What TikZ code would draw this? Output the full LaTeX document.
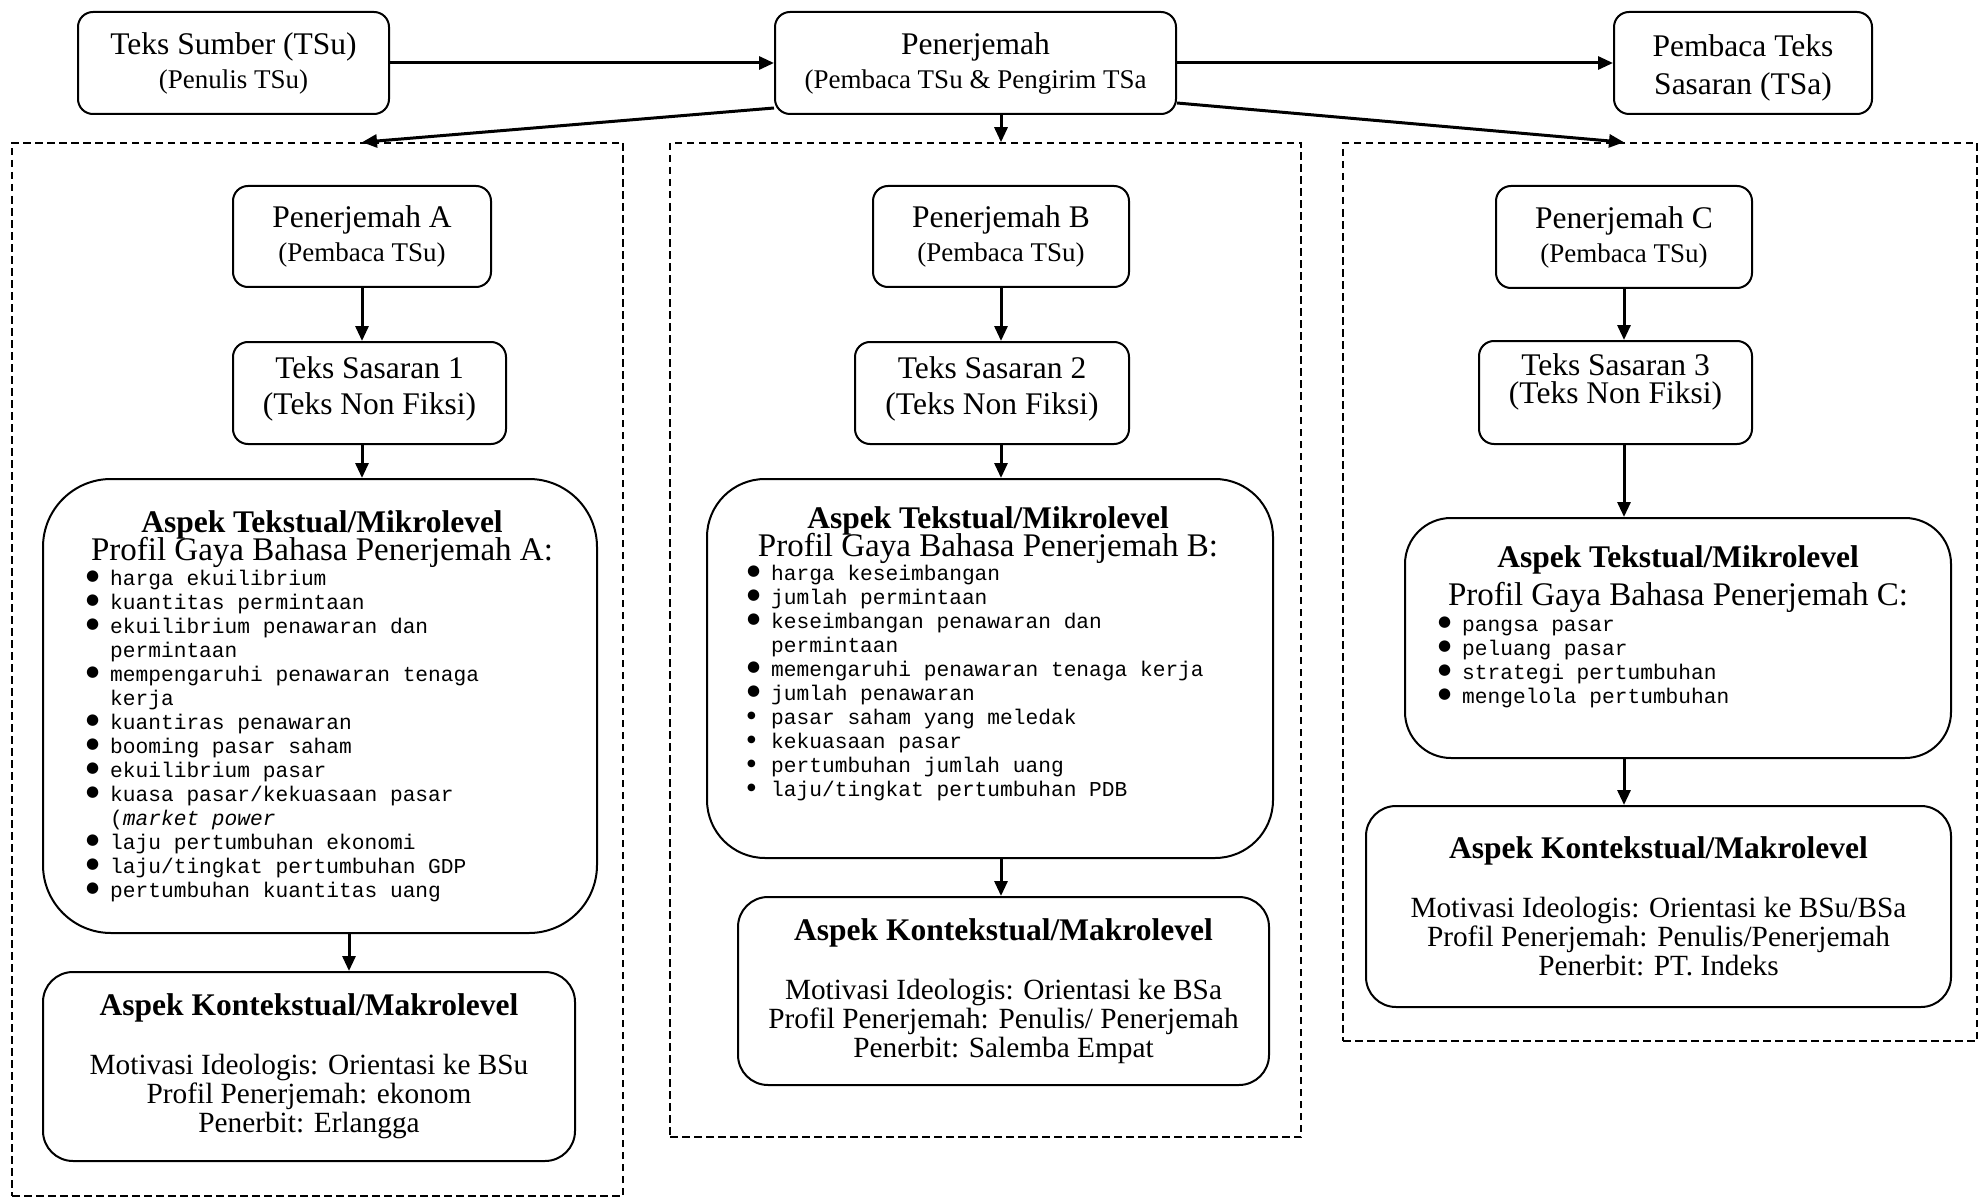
\documentclass[tikz,border=0pt]{standalone}
\usepackage{fontspec}
\setmainfont{Liberation Serif}
\setmonofont{Liberation Mono}
\newfontfamily\simbol{DejaVu Sans}
\usetikzlibrary{arrows.meta}

\newcommand{\fmain}{\fontsize{31.5}{34}\selectfont}
\newcommand{\fsub}{\fontsize{27}{30}\selectfont}
\newcommand{\fprofil}{\fontsize{33}{28}\selectfont}
\newcommand{\fbody}{\fontsize{29.3}{29}\selectfont}
\newcommand{\flist}{\ttfamily\fontsize{21.2}{24}\selectfont}
\newcommand{\bul}{\makebox[24pt][l]{\raisebox{5pt}{\simbol\fontsize{15}{15}\selectfont ●}}}
\newcommand{\bulk}{\makebox[24pt][l]{\raisebox{6pt}{\simbol\fontsize{10}{10}\selectfont ●}}}
\newcommand{\ind}{\hspace*{24pt}}

\begin{document}
\begin{tikzpicture}[x=1pt,y=-1pt]

      \tikzset{kotak/.style={draw, line width=2pt, rounded corners=15pt, align=center, inner sep=0pt, font=\fmain},
               bingkai/.style={draw, line width=1.5pt, dash pattern=on 7.5pt off 4.5pt, inner sep=0pt},
               tulisan/.style={inner sep=0pt, align=center, font=\fmain},
               daftar/.style={inner sep=0pt, align=left, anchor=north west, font=\flist},
               panah/.style={line width=3pt, -{Triangle[length=15pt, width=13pt]}}}
      \fill[white] (0,0) rectangle (1981,1198);
      \useasboundingbox (0,0) rectangle (1981,1198);
%% Kotak atas
      	\node[kotak, minimum width=311pt, minimum height=102pt] (tsu) at (233.5,63) {Teks Sumber (TSu)\\{\fsub (Penulis TSu)}};
      	\node[kotak, minimum width=401pt, minimum height=102pt] (pen) at (975.5,63) {Penerjemah\\{\fsub (Pembaca TSu \& Pengirim TSa}};
      	\node[kotak, minimum width=258pt, minimum height=102pt] (pem) at (1743,63) {\rule{0pt}{32pt}Pembaca Teks\\[4pt]Sasaran (TSa)};
%% Bingkai
      	\node[bingkai, minimum width=611pt, minimum height=1053pt] (bingkaiA) at (317.5,669.5) {};
      	\node[bingkai, minimum width=631pt, minimum height=994pt] (bingkaiB) at (985.5,640) {};
      	\node[bingkai, minimum width=634pt, minimum height=898pt] (bingkaiC) at (1660,592) {};
%% Kolom A
      	\node[kotak, minimum width=258pt, minimum height=101pt] (penA) at (362,236.5) {Penerjemah A\\{\fsub (Pembaca TSu)}};
      	\node[kotak, minimum width=273pt, minimum height=102pt] (tsA) at (369.5,393) {Teks Sasaran 1\\[2pt](Teks Non Fiksi)\rule[-15pt]{0pt}{0pt}};
      	\node[kotak, rounded corners=68pt, minimum width=554pt, minimum height=454pt] (mikroA) at (320,706) {};
      	\node[tulisan] (judulA) at (322,539) {\textbf{Aspek Tekstual/Mikrolevel}\\[-6pt]{\fprofil Profil Gaya Bahasa Penerjemah A:}};
      	\node[daftar] (daftarA) at (86,570) {\bul harga ekuilibrium\\
      	  \bul kuantitas permintaan\\
      	  \bul ekuilibrium penawaran dan\\
      	  \ind permintaan\\
      	  \bul mempengaruhi penawaran tenaga\\
      	  \ind kerja\\
      	  \bul kuantiras penawaran\\
      	  \bul booming pasar saham\\
      	  \bul ekuilibrium pasar\\
      	  \bul kuasa pasar/kekuasaan pasar\\
      	  \ind (\textit{market power}\\
      	  \bul laju pertumbuhan ekonomi\\
      	  \bul laju/tingkat pertumbuhan GDP\\
      	  \bul pertumbuhan kuantitas uang};
      	\node[kotak, rounded corners=30pt, minimum width=532pt, minimum height=189pt, font=\fbody] (makroA) at (309,1066.5) {{\fmain\bfseries Aspek Kontekstual/Makrolevel}\\[30pt]Motivasi Ideologis: Orientasi ke BSu\\Profil Penerjemah: ekonom\\Penerbit: Erlangga};
%% Kolom B
      	\node[kotak, minimum width=256pt, minimum height=101pt] (penB) at (1001,236.5) {Penerjemah B\\{\fsub (Pembaca TSu)}};
      	\node[kotak, minimum width=274pt, minimum height=102pt] (tsB) at (992,393) {Teks Sasaran 2\\[2pt](Teks Non Fiksi)\rule[-15pt]{0pt}{0pt}};
      	\node[kotak, rounded corners=58pt, minimum width=566pt, minimum height=379pt] (mikroB) at (990,668.5) {};
      	\node[tulisan] (judulB) at (988,535) {\textbf{Aspek Tekstual/Mikrolevel}\\[-6pt]{\fprofil Profil Gaya Bahasa Penerjemah B:}};
      	\node[daftar] (daftarB) at (747,565) {\bul harga keseimbangan\\
      	  \bul jumlah permintaan\\
      	  \bul keseimbangan penawaran dan\\
      	  \ind permintaan\\
      	  \bul memengaruhi penawaran tenaga kerja\\
      	  \bul jumlah penawaran\\
      	  \bulk pasar saham yang meledak\\
      	  \bulk kekuasaan pasar\\
      	  \bulk pertumbuhan jumlah uang\\
      	  \bulk laju/tingkat pertumbuhan PDB};
      	\node[kotak, rounded corners=30pt, minimum width=531pt, minimum height=188pt, font=\fbody] (makroB) at (1003.5,991) {{\fmain\bfseries Aspek Kontekstual/Makrolevel}\\[30pt]Motivasi Ideologis: Orientasi ke BSa\\Profil Penerjemah: Penulis/ Penerjemah\\Penerbit: Salemba Empat};
%% Kolom C
      	\node[kotak, minimum width=256pt, minimum height=102pt] (penC) at (1624,237) {Penerjemah C\\{\fsub (Pembaca TSu)}};
      	\node[kotak, minimum width=273pt, minimum height=103pt] (tsC) at (1615.5,392.5) {Teks Sasaran 3\\[-6pt](Teks Non Fiksi)\rule[-27pt]{0pt}{0pt}};
      	\node[kotak, rounded corners=46pt, minimum width=546pt, minimum height=240pt] (mikroC) at (1678,638) {};
      	\node[tulisan] (judulC) at (1678,579) {\textbf{Aspek Tekstual/Mikrolevel}\\[4pt]{\fprofil Profil Gaya Bahasa Penerjemah C:}};
      	\node[daftar] (daftarC) at (1438,617) {\bul pangsa pasar\\
      	  \bul peluang pasar\\
      	  \bul strategi pertumbuhan\\
      	  \bul mengelola pertumbuhan};
      	\node[kotak, rounded corners=30pt, minimum width=585pt, minimum height=201pt, font=\fbody] (makroC) at (1658.5,906.5) {{\fmain\bfseries Aspek Kontekstual/Makrolevel}\\[30pt]Motivasi Ideologis: Orientasi ke BSu/BSa\\Profil Penerjemah: Penulis/Penerjemah\\Penerbit: PT. Indeks};
%Panah
		\draw[panah] (tsu) -- (pen);
		\draw[panah] (pen) -- (pem);
		\draw[panah] ([yshift=7pt]pen.south west) -- (penA |- bingkaiA.north);
		\draw[panah] (penB |- pen.south) -- (penB |- bingkaiB.north);
		\draw[panah] ([yshift=12pt]pen.south east) -- (penC |- bingkaiC.north);
		\draw[panah] (penA) -- (penA |- tsA.north);
		\draw[panah] (penA |- tsA.south) -- (penA |- mikroA.north);
		\draw[panah] ([xshift=-13pt]penA |- mikroA.south) -- ([xshift=-13pt]penA |- makroA.north);
		\draw[panah] (penB) -- (penB |- tsB.north);
		\draw[panah] (penB |- tsB.south) -- (penB |- mikroB.north);
		\draw[panah] (penB |- mikroB.south) -- (penB |- makroB.north);
		\draw[panah] (penC) -- (penC |- tsC.north);
		\draw[panah] (penC |- tsC.south) -- (penC |- mikroC.north);
		\draw[panah] (penC |- mikroC.south) -- (penC |- makroC.north);

	\end{tikzpicture}
\end{document}
